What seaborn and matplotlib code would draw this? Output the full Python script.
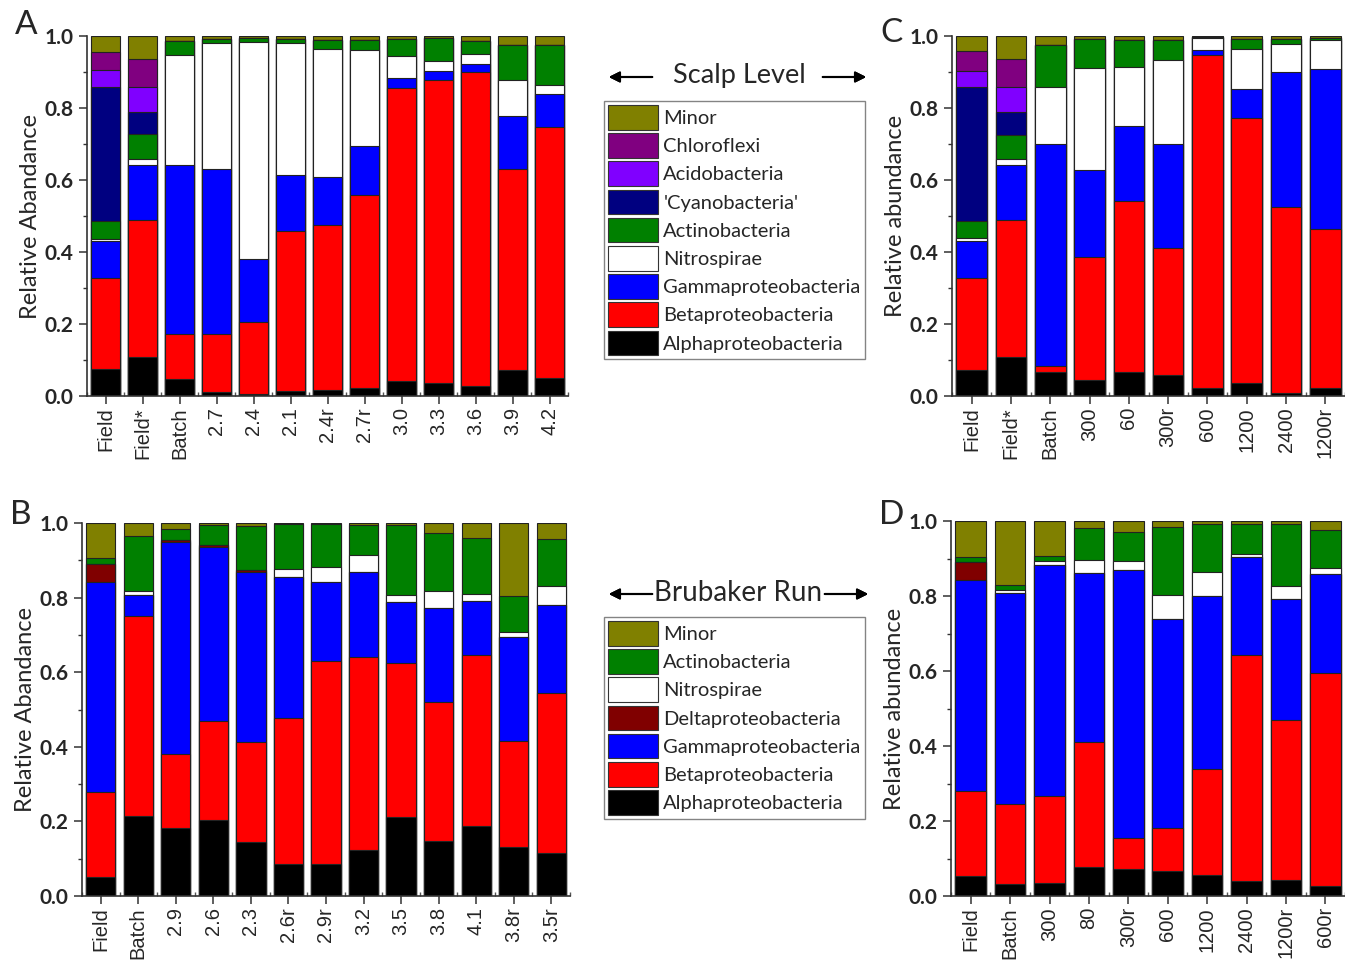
import numpy as np
import seaborn as sns
import matplotlib.pyplot as plt
from matplotlib.patches import Patch

sns.set_style("ticks")
plt.rcParams["font.family"] = ["Lato", "DejaVu Sans"]

# ---- data: cumulative top of each layer ----
a_samples = ["Field", "Field*", "Batch", "2.7", "2.4", "2.1", "2.4r", "2.7r",
             "3.0", "3.3", "3.6", "3.9", "4.2"]
a_alpha = [0.074, 0.107, 0.048, 0.012, 0.006, 0.014, 0.018, 0.022, 0.041, 0.035, 0.028, 0.071, 0.050]
a_beta = [0.329, 0.489, 0.173, 0.173, 0.206, 0.458, 0.476, 0.559, 0.856, 0.879, 0.900, 0.631, 0.747]
a_gamma = [0.430, 0.642, 0.642, 0.630, 0.381, 0.613, 0.608, 0.694, 0.884, 0.903, 0.923, 0.777, 0.840]
a_nitro = [0.437, 0.657, 0.947, 0.981, 0.982, 0.981, 0.965, 0.960, 0.944, 0.931, 0.949, 0.877, 0.865]
a_actino = [0.486, 0.727, 0.986, 0.993, 0.995, 0.992, 0.990, 0.988, 0.991, 0.994, 0.986, 0.976, 0.975]
a_cyano = [0.859, 0.790, 0.986, 0.993, 0.995, 0.992, 0.990, 0.988, 0.991, 0.994, 0.986, 0.976, 0.975]
a_acido = [0.905, 0.858, 0.986, 0.993, 0.995, 0.992, 0.990, 0.988, 0.991, 0.994, 0.986, 0.976, 0.975]
a_chloro = [0.956, 0.937, 0.986, 0.993, 0.995, 0.992, 0.990, 0.988, 0.991, 0.994, 0.986, 0.976, 0.975]
a_minor = [1.0, 1.0, 1.0, 1.0, 1.0, 1.0, 1.0, 1.0, 1.0, 1.0, 1.0, 1.0, 1.0]

c_samples = ["Field", "Field*", "Batch", "300", "60", "300r", "600", "1200", "2400", "1200r"]
c_alpha = [0.073, 0.108, 0.068, 0.045, 0.067, 0.057, 0.022, 0.036, 0.007, 0.021]
c_beta = [0.327, 0.489, 0.082, 0.387, 0.543, 0.412, 0.946, 0.772, 0.526, 0.463]
c_gamma = [0.430, 0.642, 0.701, 0.629, 0.751, 0.701, 0.960, 0.852, 0.901, 0.907]
c_nitro = [0.439, 0.658, 0.859, 0.912, 0.915, 0.934, 0.994, 0.964, 0.979, 0.990]
c_actino = [0.487, 0.726, 0.975, 0.991, 0.989, 0.989, 0.996, 0.991, 0.991, 0.994]
c_cyano = [0.859, 0.790, 0.975, 0.991, 0.989, 0.989, 0.996, 0.991, 0.991, 0.994]
c_acido = [0.904, 0.858, 0.975, 0.991, 0.989, 0.989, 0.996, 0.991, 0.991, 0.994]
c_chloro = [0.957, 0.936, 0.975, 0.991, 0.989, 0.989, 0.996, 0.991, 0.991, 0.994]
c_minor = [1.0, 1.0, 1.0, 1.0, 1.0, 1.0, 1.0, 1.0, 1.0, 1.0]

b_samples = ["Field", "Batch", "2.9", "2.6", "2.3", "2.6r", "2.9r", "3.2", "3.5",
             "3.8", "4.1", "3.8r", "3.5r"]
b_alpha = [0.051, 0.214, 0.183, 0.203, 0.146, 0.086, 0.086, 0.123, 0.211, 0.148, 0.188, 0.131, 0.115]
b_beta = [0.279, 0.752, 0.380, 0.468, 0.412, 0.477, 0.629, 0.640, 0.626, 0.520, 0.645, 0.415, 0.545]
b_gamma = [0.843, 0.808, 0.950, 0.936, 0.869, 0.855, 0.841, 0.868, 0.787, 0.772, 0.792, 0.695, 0.780]
b_delta = [0.890, 0.808, 0.954, 0.940, 0.875, 0.855, 0.841, 0.868, 0.787, 0.772, 0.792, 0.695, 0.780]
b_nitro = [0.890, 0.818, 0.954, 0.940, 0.875, 0.877, 0.882, 0.913, 0.807, 0.819, 0.810, 0.709, 0.832]
b_actino = [0.905, 0.966, 0.985, 0.994, 0.993, 0.997, 0.998, 0.995, 0.995, 0.973, 0.960, 0.804, 0.957]
b_minor = [1.0, 1.0, 1.0, 1.0, 1.0, 1.0, 1.0, 1.0, 1.0, 1.0, 1.0, 1.0, 1.0]

d_samples = ["Field", "Batch", "300", "80", "300r", "600", "1200", "2400", "1200r", "600r"]
d_alpha = [0.053, 0.033, 0.036, 0.078, 0.071, 0.066, 0.055, 0.039, 0.042, 0.028]
d_beta = [0.280, 0.246, 0.268, 0.412, 0.154, 0.181, 0.340, 0.644, 0.469, 0.596]
d_gamma = [0.843, 0.808, 0.884, 0.862, 0.869, 0.740, 0.800, 0.904, 0.792, 0.858]
d_delta = [0.892, 0.808, 0.884, 0.862, 0.869, 0.740, 0.800, 0.904, 0.792, 0.858]
d_nitro = [0.892, 0.816, 0.894, 0.896, 0.893, 0.802, 0.864, 0.912, 0.826, 0.874]
d_actino = [0.905, 0.829, 0.908, 0.981, 0.972, 0.984, 0.991, 0.991, 0.992, 0.977]
d_minor = [1.0, 1.0, 1.0, 1.0, 1.0, 1.0, 1.0, 1.0, 1.0, 1.0]

colors = {
    "Minor": "#808000",
    "Chloroflexi": "#800080",
    "Acidobacteria": "#8000ff",
    "'Cyanobacteria'": "#000080",
    "Actinobacteria": "#008000",
    "Nitrospirae": "#ffffff",
    "Deltaproteobacteria": "#800000",
    "Gammaproteobacteria": "#0000ff",
    "Betaproteobacteria": "#ff0000",
    "Alphaproteobacteria": "#000000",
}

# layers listed from top of stack to bottom
layers_a = [("Minor", a_minor), ("Chloroflexi", a_chloro), ("Acidobacteria", a_acido),
            ("'Cyanobacteria'", a_cyano), ("Actinobacteria", a_actino), ("Nitrospirae", a_nitro),
            ("Gammaproteobacteria", a_gamma), ("Betaproteobacteria", a_beta),
            ("Alphaproteobacteria", a_alpha)]
layers_c = [("Minor", c_minor), ("Chloroflexi", c_chloro), ("Acidobacteria", c_acido),
            ("'Cyanobacteria'", c_cyano), ("Actinobacteria", c_actino), ("Nitrospirae", c_nitro),
            ("Gammaproteobacteria", c_gamma), ("Betaproteobacteria", c_beta),
            ("Alphaproteobacteria", c_alpha)]
layers_b = [("Minor", b_minor), ("Actinobacteria", b_actino), ("Nitrospirae", b_nitro),
            ("Deltaproteobacteria", b_delta), ("Gammaproteobacteria", b_gamma),
            ("Betaproteobacteria", b_beta), ("Alphaproteobacteria", b_alpha)]
layers_d = [("Minor", d_minor), ("Actinobacteria", d_actino), ("Nitrospirae", d_nitro),
            ("Deltaproteobacteria", d_delta), ("Gammaproteobacteria", d_gamma),
            ("Betaproteobacteria", d_beta), ("Alphaproteobacteria", d_alpha)]

W, H = 1345, 963


def box(x0, y0, x1, y1):
    return [x0 / W, 1 - y1 / H, (x1 - x0) / W, (y1 - y0) / H]


def fx(x):
    return x / W


def fy(y):
    return 1 - y / H


def draw_panel(ax, samples, layers, ylabel):
    # tallest (cumulative) layer first, shorter ones painted on top
    for name, tops in layers:
        sns.barplot(x=samples, y=tops, color=colors[name], saturation=1,
                    edgecolor="#222222", linewidth=0.8, width=0.78, ax=ax)
    ax.set_ylim(0, 1.0)
    ax.set_xlim(-0.5, len(samples) - 0.5)
    ax.set_yticks(np.arange(0, 1.01, 0.2))
    ax.set_yticks(np.arange(0.1, 1.0, 0.2), minor=True)
    ax.set_yticklabels([f"{v:.1f}" for v in np.arange(0, 1.01, 0.2)],
                       fontsize=15, fontweight="bold")
    ax.set_xticks(np.arange(-0.5, len(samples), 1.0), minor=True)
    ax.set_xticks(range(len(samples)))
    ax.set_xticklabels(samples, rotation=90, fontsize=14.5, family="Liberation Sans")
    ax.tick_params(axis="both", which="major", length=6, width=1.1, color="#333333")
    ax.tick_params(axis="x", which="major", pad=2)
    ax.tick_params(axis="y", which="minor", length=3, width=1.0, color="#333333")
    ax.tick_params(axis="x", which="minor", direction="in", length=3, width=1.0, color="#555555")
    ax.set_xlabel("")
    ax.set_ylabel(ylabel, fontsize=17, labelpad=3)
    sns.despine(ax=ax)
    for sp in ("left", "bottom"):
        ax.spines[sp].set_linewidth(1.2)
        ax.spines[sp].set_color("#333333")


fig = plt.figure(figsize=(13.45, 9.63), dpi=100)

axA = fig.add_axes(box(87, 36, 568, 396))
axC = fig.add_axes(box(952, 36, 1345, 396))
axB = fig.add_axes(box(82, 523, 570, 896))
axD = fig.add_axes(box(951, 521, 1345, 896))

draw_panel(axA, a_samples, layers_a, "Relative Abandance")
draw_panel(axC, c_samples, layers_c, "Relative abundance")
draw_panel(axB, b_samples, layers_b, "Relative Abandance")
draw_panel(axD, d_samples, layers_d, "Relative abundance")

for letter, x, y in [("A", 26, 25), ("C", 892, 33), ("B", 21, 515), ("D", 892, 515)]:
    fig.text(fx(x), fy(y), letter, fontsize=24, ha="center", va="center")

# legends
for layers, top in [(layers_a, 101), (layers_b, 617)]:
    handles = [Patch(facecolor=colors[n], edgecolor="#333333", linewidth=0.8) for n, _ in layers]
    labels = [n for n, _ in layers]
    fig.legend(handles, labels, loc="upper left", bbox_to_anchor=(fx(604), fy(top)),
               frameon=True, fancybox=False, edgecolor="#666666", fontsize=14.5,
               handlelength=2.5, handleheight=1.5, labelspacing=0.18,
               handletextpad=0.25, borderpad=0.2, borderaxespad=0)

# section headers with arrows
fig.text(fx(739), fy(76), "Scalp Level", fontsize=19.5, ha="center", va="center")
fig.text(fx(738), fy(593), "Brubaker Run", fontsize=20, ha="center", va="center")
arrow = dict(arrowstyle="-|>", color="black", lw=1.5, mutation_scale=16)
for y, l0, r0 in [(77, 655, 820), (594, 655, 822)]:
    fig.add_artist(plt.annotate("", xy=(fx(606), fy(y)), xytext=(fx(l0), fy(y)),
                                xycoords="figure fraction", textcoords="figure fraction",
                                arrowprops=arrow))
    fig.add_artist(plt.annotate("", xy=(fx(r0 + 49), fy(y)), xytext=(fx(r0), fy(y)),
                                xycoords="figure fraction", textcoords="figure fraction",
                                arrowprops=arrow))

fig.savefig("out.png", dpi=100)
